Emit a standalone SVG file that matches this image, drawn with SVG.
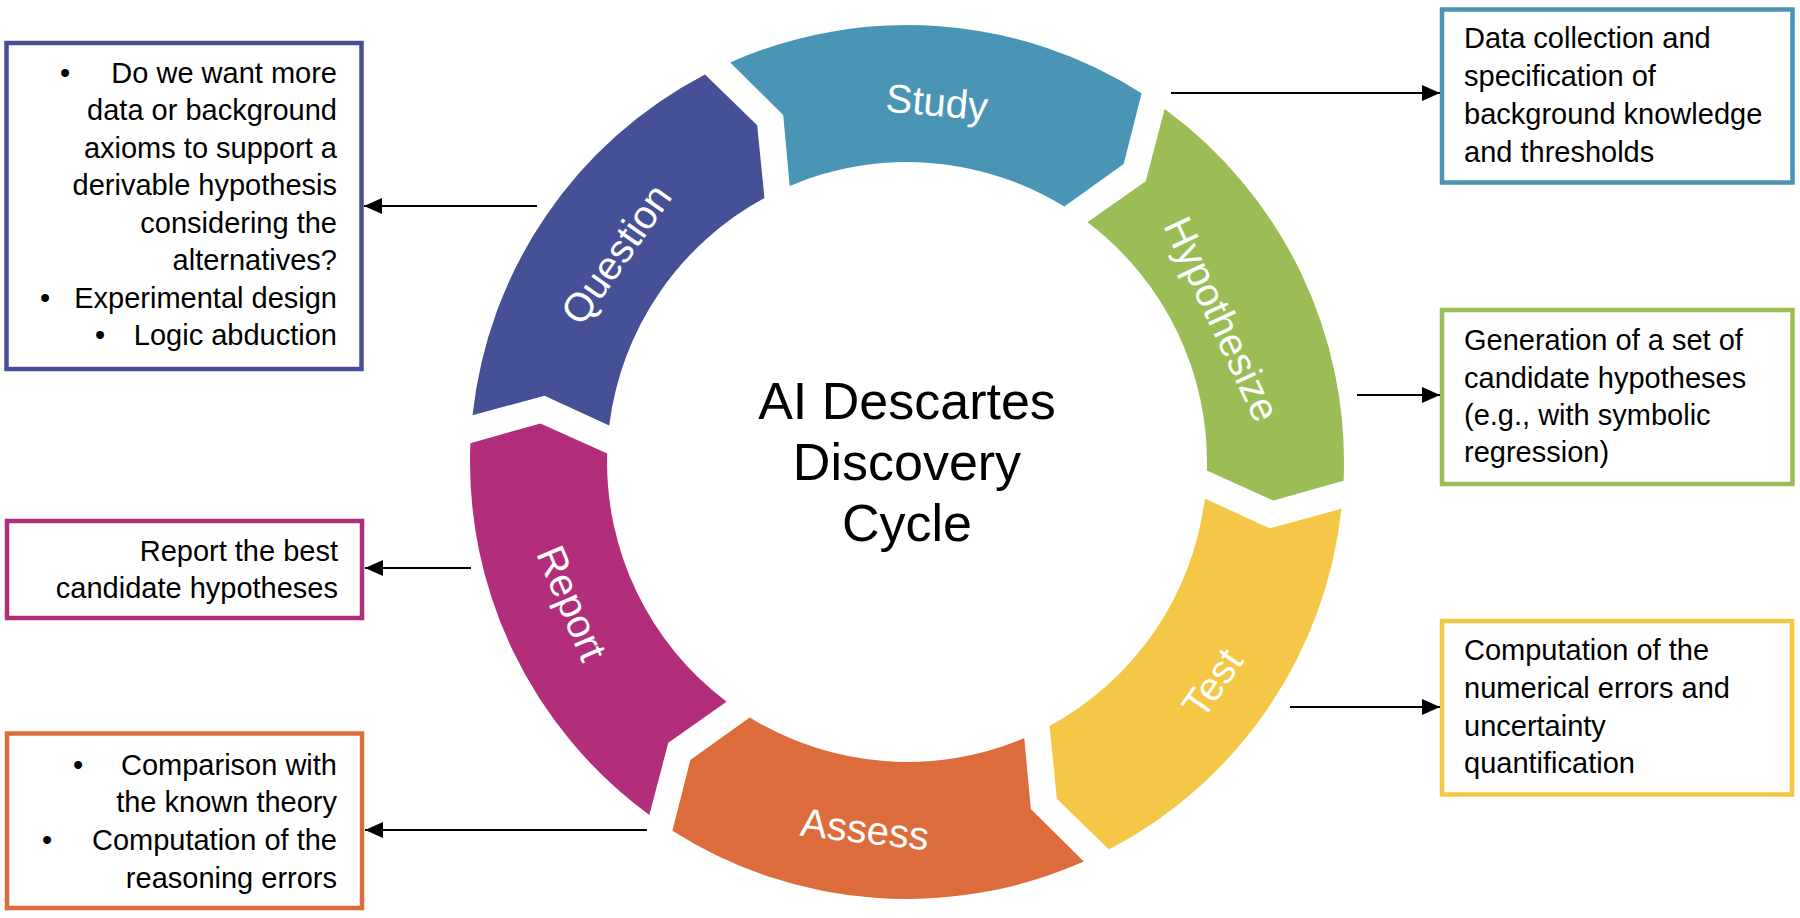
<svg xmlns="http://www.w3.org/2000/svg" xmlns:xlink="http://www.w3.org/1999/xlink" width="1800" height="918" viewBox="0 0 1800 918">
  <defs>
    <style>
      .seg-label { font-family: "Liberation Sans", Arial, sans-serif; font-size: 40px; fill: #ffffff; text-anchor: middle; }
      .title { font-family: "Liberation Sans", Arial, sans-serif; font-size: 52px; fill: #000000; text-anchor: middle; }
      .box { fill: #ffffff; stroke-width: 4.5; }
      .txt { font-family: "Liberation Sans", Arial, sans-serif; font-size: 29px; fill: #000000; }
      .right { text-anchor: end; }
      .bullet { text-anchor: middle; }
      .conn { stroke: #000000; stroke-width: 2; fill: none; }
    </style>
    <path id="seg" d="M 730.2 62.4 A 437 437 0 0 1 1141.6 93.3 L 1123.7 163.9 L 1064.3 206.6 A 300 300 0 0 0 789.7 185.9 L 783.2 114.9 Z"/>
    <marker id="arrow" viewBox="0 0 18 16" refX="18" refY="8" markerWidth="18" markerHeight="16" markerUnits="userSpaceOnUse" orient="auto">
      <path d="M0,0 L18,8 L0,16 Z" fill="#000000"/>
    </marker>
  </defs>
  <rect x="0" y="0" width="1800" height="918" fill="#ffffff"/>

  <!-- Cycle segments -->
  <g id="node-study">
    <use xlink:href="#seg" href="#seg" fill="#4A95B6"/>
    <text class="seg-label" transform="translate(937,102) rotate(5)" y="14">Study</text>
  </g>
  <g id="node-hypothesize">
    <use xlink:href="#seg" href="#seg" fill="#9ABE55" transform="rotate(60 907 462)"/>
    <text class="seg-label" transform="translate(1222,319) rotate(65)" y="14">Hypothesize</text>
  </g>
  <g id="node-test">
    <use xlink:href="#seg" href="#seg" fill="#F4C746" transform="rotate(120 907 462)"/>
    <text class="seg-label" transform="translate(1212,683) rotate(-55)" y="14">Test</text>
  </g>
  <g id="node-assess">
    <use xlink:href="#seg" href="#seg" fill="#DC6C3B" transform="rotate(180 907 462)"/>
    <text class="seg-label" transform="translate(865,829) rotate(6.5)" y="14">Assess</text>
  </g>
  <g id="node-report">
    <use xlink:href="#seg" href="#seg" fill="#B22E7A" transform="rotate(240 907 462)"/>
    <text class="seg-label" transform="translate(572,603) rotate(67)" y="14">Report</text>
  </g>
  <g id="node-question">
    <use xlink:href="#seg" href="#seg" fill="#465096" transform="rotate(300 907 462)"/>
    <text class="seg-label" transform="translate(616,254) rotate(-55)" y="14">Question</text>
  </g>

  <g id="node-center">
    <text class="title" x="907" y="419">AI Descartes</text>
    <text class="title" x="907" y="480">Discovery</text>
    <text class="title" x="907" y="541">Cycle</text>
  </g>

  <!-- Description boxes -->
  <g id="box-question">
    <rect class="box" x="6.5" y="43" width="355" height="326" stroke="#465096"/>
    <text class="txt bullet" x="65" y="83">•</text>
    <text class="txt right" x="337" y="83">Do we want more</text>
    <text class="txt right" x="337" y="120">data or background</text>
    <text class="txt right" x="337" y="158">axioms to support a</text>
    <text class="txt right" x="337" y="195">derivable hypothesis</text>
    <text class="txt right" x="337" y="233">considering the</text>
    <text class="txt right" x="337" y="270">alternatives?</text>
    <text class="txt bullet" x="45" y="308">•</text>
    <text class="txt right" x="337" y="308">Experimental design</text>
    <text class="txt bullet" x="100" y="345">•</text>
    <text class="txt right" x="337" y="345">Logic abduction</text>
  </g>

  <g id="box-study">
    <rect class="box" x="1442" y="9.5" width="350.5" height="173" stroke="#4A95B6"/>
    <text class="txt" x="1464" y="48">Data collection and</text>
    <text class="txt" x="1464" y="86">specification of</text>
    <text class="txt" x="1464" y="124">background knowledge</text>
    <text class="txt" x="1464" y="162">and thresholds</text>
  </g>

  <g id="box-hypothesize">
    <rect class="box" x="1442" y="310" width="350.5" height="174" stroke="#9ABE55"/>
    <text class="txt" x="1464" y="350">Generation of a set of</text>
    <text class="txt" x="1464" y="388">candidate hypotheses</text>
    <text class="txt" x="1464" y="425">(e.g., with symbolic</text>
    <text class="txt" x="1464" y="462">regression)</text>
  </g>

  <g id="box-test">
    <rect class="box" x="1442" y="621" width="350" height="173.5" stroke="#F4C746"/>
    <text class="txt" x="1464" y="660">Computation of the</text>
    <text class="txt" x="1464" y="698">numerical errors and</text>
    <text class="txt" x="1464" y="736">uncertainty</text>
    <text class="txt" x="1464" y="773">quantification</text>
  </g>

  <g id="box-report">
    <rect class="box" x="7" y="521" width="355" height="97" stroke="#B22E7A"/>
    <text class="txt right" x="338" y="561">Report the best</text>
    <text class="txt right" x="338" y="598">candidate hypotheses</text>
  </g>

  <g id="box-assess">
    <rect class="box" x="7" y="733.5" width="355" height="174.5" stroke="#DC6C3B"/>
    <text class="txt bullet" x="78" y="775">•</text>
    <text class="txt right" x="337" y="775">Comparison with</text>
    <text class="txt right" x="337" y="812">the known theory</text>
    <text class="txt bullet" x="47" y="850">•</text>
    <text class="txt right" x="337" y="850">Computation of the</text>
    <text class="txt right" x="337" y="888">reasoning errors</text>
  </g>

  <!-- Connectors -->
  <g id="connectors">
    <line class="conn" x1="537" y1="206" x2="364" y2="206" marker-end="url(#arrow)"/>
    <line class="conn" x1="1171" y1="93" x2="1440" y2="93" marker-end="url(#arrow)"/>
    <line class="conn" x1="1357" y1="395" x2="1440" y2="395" marker-end="url(#arrow)"/>
    <line class="conn" x1="1290" y1="707" x2="1440" y2="707" marker-end="url(#arrow)"/>
    <line class="conn" x1="471" y1="568" x2="365" y2="568" marker-end="url(#arrow)"/>
    <line class="conn" x1="647" y1="830" x2="365" y2="830" marker-end="url(#arrow)"/>
  </g>
</svg>
